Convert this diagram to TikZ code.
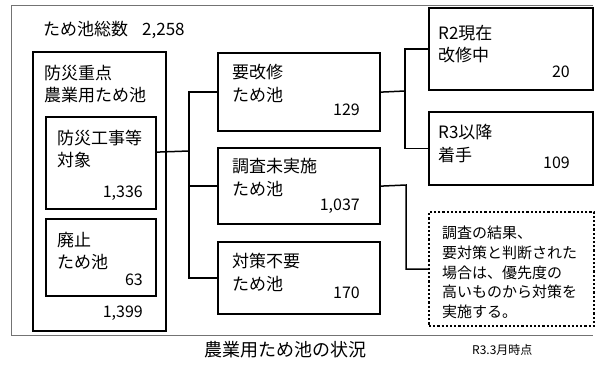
\documentclass[tikz,border=0pt]{standalone}
\usepackage{fontspec}
\setmainfont{Noto Sans CJK JP}
\usetikzlibrary{positioning}

\begin{document}
\begin{tikzpicture}[x=1pt, y=-1pt,
    box/.style={rectangle, draw, line width=2.2pt, inner sep=0pt, anchor=north west},
    note box/.style={box, dotted, line width=2pt},
    label text/.style={anchor=west, align=left, inner sep=0pt, font=\fontsize{17}{22.5}\selectfont},
    note text/.style={anchor=west, align=left, inner sep=0pt, font=\fontsize{15}{19.7}\selectfont},
    count/.style={anchor=east, inner sep=0pt, font=\fontsize{16}{18}\selectfont},
    link/.style={line width=1.5pt}
    ]

    \useasboundingbox (0,0) rectangle (599,364);

    % 外枠（右辺なし）
    \draw[line width=0.8pt, black!55] (593,5) -- (11,5) -- (11,335) -- (593,335);
    \node[label text] (TOTAL) at (43,30) {ため池総数\hspace{14pt}2,258};

    % 防災重点農業用ため池
    \node[box, minimum width=133pt, minimum height=279pt] (A) at (32,51) {};
    \node[label text] (At) at (44,84) {防災重点\\農業用ため池};
    \node[count] (An) at (143,313) {1,399};

    \node[box, minimum width=110pt, minimum height=92pt] (B) at (45,116) {};
    \node[label text] (Bt) at (57,149) {防災工事等\\対象};
    \node[count] (Bn) at (143,193) {1,336};

    \node[box, minimum width=110pt, minimum height=77pt] (C) at (45,218) {};
    \node[label text] (Ct) at (57,251) {廃止\\ため池};
    \node[count] (Cn) at (143,280) {63};

    % 中段
    \node[box, minimum width=162pt, minimum height=78pt] (D) at (217,52) {};
    \node[label text] (Dt) at (232,83.5) {要改修\\ため池};
    \node[count] (Dn) at (360,110) {129};

    \node[box, minimum width=162pt, minimum height=76pt] (E) at (217,147) {};
    \node[label text] (Et) at (232,177.5) {調査未実施\\ため池};
    \node[count] (En) at (360,206) {1,037};

    \node[box, minimum width=162pt, minimum height=72pt] (F) at (217,241) {};
    \node[label text] (Ft) at (232,272.5) {対策不要\\ため池};
    \node[count] (Fn) at (360,293) {170};

    % 右列
    \node[box, minimum width=164pt, minimum height=82pt] (G) at (428,7) {};
    \node[label text] (Gt) at (438,44) {R2現在\\改修中};
    \node[count] (Gn) at (570,72) {20};

    \node[box, minimum width=164pt, minimum height=73pt] (H) at (428,111) {};
    \node[label text] (Ht) at (438,143.5) {R3以降\\着手};
    \node[count] (Hn) at (570,163) {109};

    \node[note box, minimum width=165pt, minimum height=114pt] (I) at (428,211) {};
    \node[note text] (It) at (442,272.5) {調査の結果、\\要対策と判断された\\場合は、優先度の\\高いものから対策を\\実施する。};

    % 接続線
    \coordinate (j1) at (189,151);
    \coordinate (j2) at (405,91);
    \coordinate (j3) at (406,185);

    \draw[link] ([yshift=11pt]B.east) -- (j1);
    \draw[link] (D.west) -| (j1) |- (F.west);
    \draw[link] (E.west) -- (E.west -| j1);
    \draw[link] (D.east) -- (j2);
    \draw[link] (G.west) -| (j2) |- (H.west);
    \draw[link] (E.east) -- (j3) |- (I.west);

    % キャプション
    \node[font=\fontsize{18}{20}\selectfont] (CAP) at (285,350) {農業用ため池の状況};
    \node[anchor=west, inner sep=0pt, font=\fontsize{12}{13}\selectfont] (DATE) at (472,350) {R3.3月時点};

\end{tikzpicture}
\end{document}
